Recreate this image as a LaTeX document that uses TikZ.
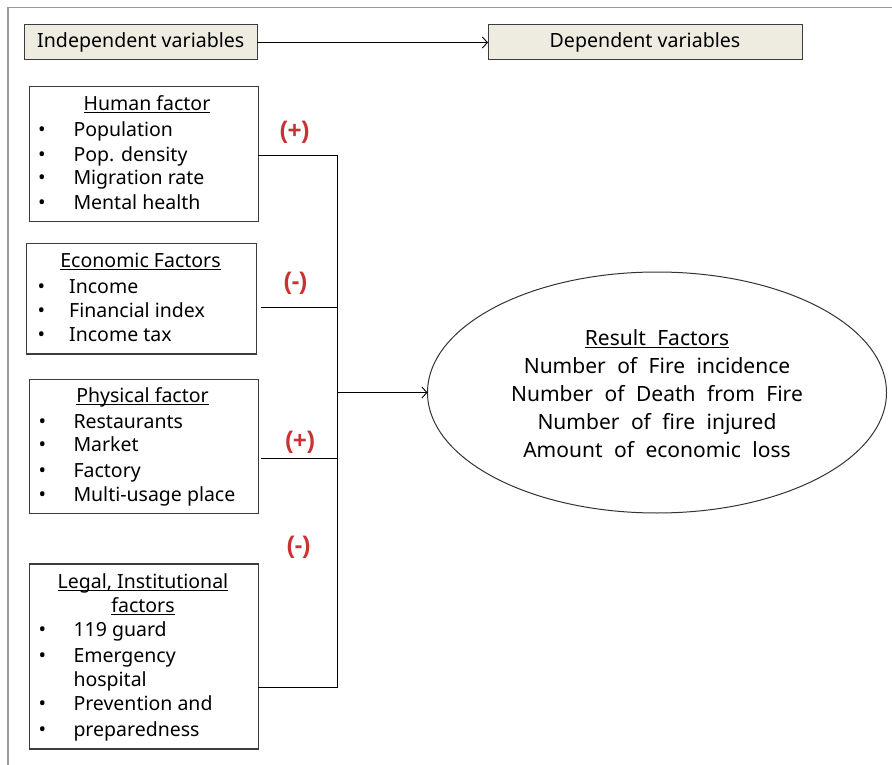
\documentclass[tikz,border=0pt]{standalone}
\usepackage{fontspec}
\setmainfont{Noto Sans}
\newfontfamily\signfont{Liberation Sans}
\usetikzlibrary{arrows.meta,shapes.geometric}
\definecolor{hdrfill}{HTML}{EEECE1}
\definecolor{signred}{RGB}{200,50,50}
\definecolor{boxline}{RGB}{60,60,60}
\newcommand{\ttlu}[1]{\setbox0=\hbox{#1}\rlap{\vrule height -1.3pt depth 2.3pt width \wd0}\box0}
\newcommand{\widesp}[1]{\spaceskip=11.5pt\relax #1}
\begin{document}
\begin{tikzpicture}[x=1pt,y=-1pt,
  hdrbox/.style={draw=boxline, line width=1pt, fill=hdrfill, inner sep=0pt, outer sep=0pt, font=\fontsize{19.6}{22}\selectfont},
  factorbox/.style={draw=boxline, line width=1.2pt, inner sep=0pt, outer sep=0pt},
  ttl/.style={anchor=base, inner sep=0pt, font=\fontsize{19.5}{22}\selectfont},
  itm/.style={anchor=base west, inner sep=0pt, font=\fontsize{19.5}{22}\selectfont},
  bul/.style={anchor=base, inner sep=0pt, font=\fontsize{20}{22}\selectfont},
  restxt/.style={anchor=base, inner sep=0pt, font=\fontsize{21}{24}\selectfont},
  sign/.style={text=signred, font=\signfont\fontsize{24}{26}\selectfont\bfseries, inner sep=0pt},
  conn/.style={draw=black, line width=0.9pt},
  arr/.style={conn, -{Straight Barb[length=5pt,width=11pt]}},
]
\useasboundingbox (0,0) rectangle (892,765);
\draw[color=black!40, line width=1.5pt] (8,765) -- (8,7.5) -- (892,7.5);

% header
\node[hdrbox, minimum width=233pt, minimum height=35pt] (indep) at (140.8,42.5) {Independent variables};
\node[hdrbox, minimum width=314pt, minimum height=35pt] (dep) at (645,42.5) {Dependent variables};
\draw[arr] (indep) -- (dep);

% factor boxes
\node[factorbox, minimum width=229pt, minimum height=135pt] (human) at (143.8,154.2) {};
\node[factorbox, minimum width=230pt, minimum height=110.7pt] (econ) at (141.7,298.7) {};
\node[factorbox, minimum width=229pt, minimum height=134pt] (phys) at (143.8,446.3) {};
\node[factorbox, minimum width=229pt, minimum height=185pt] (legal) at (143.8,656.5) {};

% human
\node[ttl] (ht) at (147,110.7) {\ttlu{Human factor}};
\foreach \y/\t [count=\i] in {136.7/Population, 161/Pop. density, 185/Migration rate, 209.3/Mental health}{
  \node[bul] (hb\i) at (42,\y) {•};
  \node[itm] (hi\i) at (73.3,\y) {\t};
}
% economic
\node[ttl] (et) at (140.5,267.7) {\ttlu{Economic Factors}};
\foreach \y/\t [count=\i] in {293.3/Income, 317.3/Financial index, 341.7/Income tax}{
  \node[bul] (eb\i) at (41.5,\y) {•};
  \node[itm] (ei\i) at (69,\y) {\t};
}
% physical
\node[ttl] (pt) at (142.5,402.7) {\ttlu{Physical factor}};
\foreach \y/\t [count=\i] in {428.3/Restaurants, 451.7/Market, 477.3/Factory, 501.7/Multi-usage place}{
  \node[bul] (pb\i) at (42.5,\y) {•};
  \node[itm] (pi\i) at (73.3,\y) {\t};
}
% legal
\node[ttl] (lt1) at (143,588.3) {\ttlu{Legal, Institutional}};
\node[ttl] (lt2) at (143,612.7) {\ttlu{factors}};
\foreach \y/\t [count=\i] in {636.7/119 guard, 662.7/Emergency, 710.7/Prevention and, 736/preparedness}{
  \node[bul] (lb\i) at (42.5,\y) {•};
  \node[itm] (li\i) at (73.3,\y) {\t};
}
\node[itm] (li5) at (73.3,686.7) {hospital};

% signs
\node[sign] (s1) at (294.7,132.5) {(+)};
\node[sign] (s2) at (295.5,283) {(-)};
\node[sign] (s3) at (300,442.5) {(+)};
\node[sign] (s4) at (298.7,547.5) {(-)};

% result ellipse
\node[draw=black!80, line width=1pt, ellipse, minimum width=459pt, minimum height=241pt, inner sep=0pt, outer sep=0pt] (res) at (657,392.5) {};
\node[restxt] (r0) at (657,345.5) {\widesp{\ttlu{Result Factors}}};
\node[restxt] (r1) at (657,373.5) {\widesp{Number of Fire incidence}};
\node[restxt] (r2) at (657,401.5) {\widesp{Number of Death from Fire}};
\node[restxt] (r3) at (657,429.5) {\widesp{Number of fire injured}};
\node[restxt] (r4) at (657,457.5) {\widesp{Amount of economic loss}};

% connectors
\coordinate (busH) at (337.7,155);
\coordinate (busE) at (337.7,307.7);
\coordinate (busP) at (337.7,458.3);
\coordinate (busL) at (337.7,687.7);
\coordinate (busM) at (337.7,392.5);
\draw[conn] (human.east |- busH) -- (busH) -- (busL) -- (legal.east |- busL);
\draw[conn, shorten <=4pt] (econ.east |- busE) -- (busE);
\draw[conn, shorten <=3pt] (phys.east |- busP) -- (busP);
\draw[arr] (busM) -- (res.west);
\end{tikzpicture}
\end{document}
